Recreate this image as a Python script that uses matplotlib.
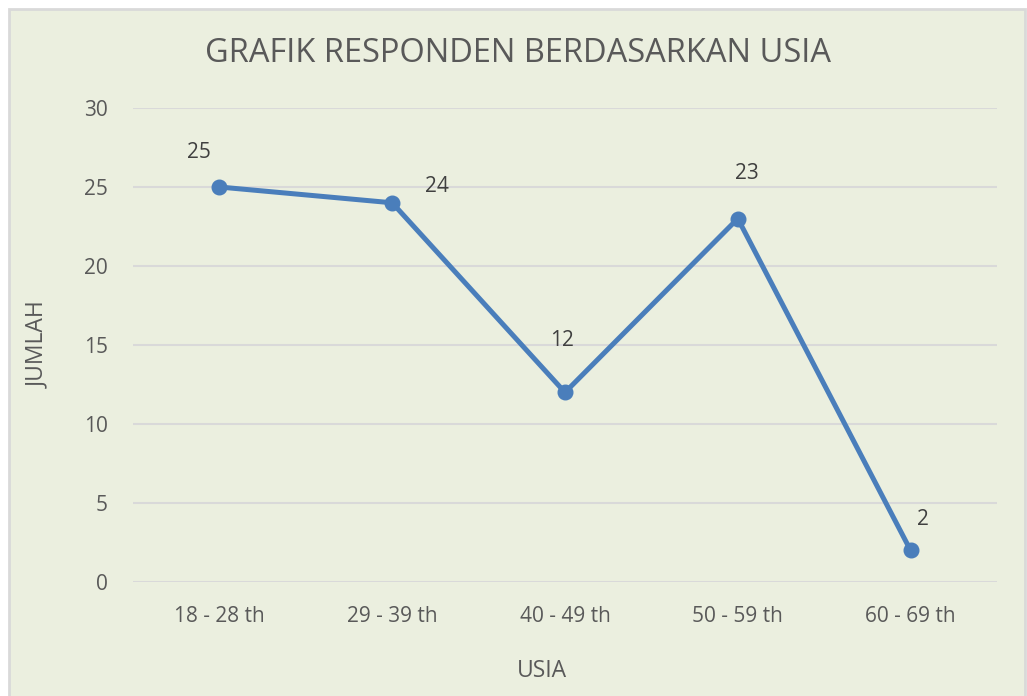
import matplotlib.pyplot as plt
from matplotlib.patches import Rectangle

# Data
categories = ['18 - 28 th', '29 - 39 th', '40 - 49 th', '50 - 59 th', '60 - 69 th']
values = [25, 24, 12, 23, 2]
yticks = [0, 5, 10, 15, 20, 25, 30]

# label offsets (points) to mimic the original placement
label_offsets = [(-15, 24.5), (32, 11.5), (-2, 37.5), (6.5, 32.5), (9, 22.5)]

plt.rcParams['font.family'] = ['Open Sans', 'DejaVu Sans']

bg = '#EBEFDF'
line_color = '#4A7EBB'
grid_color = '#D9D9D9'
tick_color = '#595959'

fig = plt.figure(figsize=(10.27, 6.96), dpi=100)
fig.patch.set_facecolor('white')

# chart area with light border
fig.patches.append(Rectangle((9 / 1027, -0.05), (1025 - 9) / 1027, 1 - 9 / 696 + 0.05,
                             transform=fig.transFigure, facecolor=bg,
                             edgecolor=grid_color, linewidth=2, zorder=-5))

ax = fig.add_axes([133 / 1027, 1 - 582 / 696, (997 - 133) / 1027, (582 - 108) / 696])
ax.set_facecolor('none')
ax.set_zorder(2)

x = list(range(len(categories)))
ax.plot(x, values, color=line_color, linewidth=3.6, marker='o', markersize=10.5,
        zorder=3)

for xi, v, (dx, dy) in zip(x, values, label_offsets):
    ax.annotate(str(v), (xi, v), xytext=(dx, dy), textcoords='offset points',
                ha='center', va='center', fontsize=15, color='#404040')

ax.set_xlim(-0.5, len(categories) - 0.5)
ax.set_ylim(0, 30)
ax.set_yticks(yticks)
ax.set_xticks(x)
ax.set_xticklabels(categories)
ax.yaxis.grid(True, color=grid_color, linewidth=1.5)
ax.set_axisbelow(True)
for s in ax.spines.values():
    s.set_visible(False)
ax.tick_params(axis='both', length=0, labelsize=15, labelcolor=tick_color)
ax.tick_params(axis='y', pad=18)
ax.tick_params(axis='x', pad=17)

fig.text(518 / 1027, 1 - 53 / 696, 'GRAFIK RESPONDEN BERDASARKAN USIA',
         ha='center', va='center', fontsize=23.5, color=tick_color)
fig.text(542 / 1027, 1 - 671 / 696, 'USIA', ha='center', va='center',
         fontsize=16.5, color=tick_color)
fig.text(38 / 1027, 1 - 345 / 696, 'JUMLAH', ha='center', va='center',
         rotation=90, fontsize=16.5, color=tick_color)

fig.savefig('out.png', dpi=100, facecolor=fig.get_facecolor())
